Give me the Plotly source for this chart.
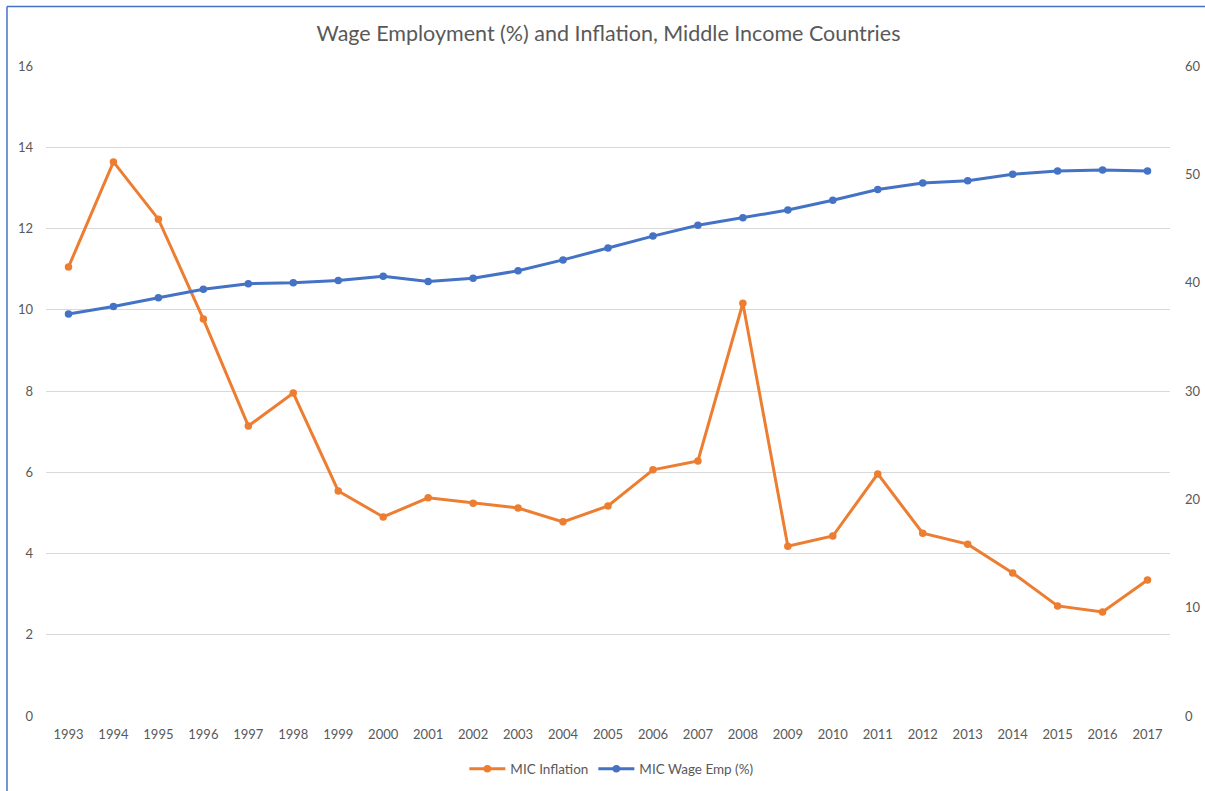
import plotly.graph_objects as go

years = [str(y) for y in range(1993, 2018)]
inflation = [11.05, 13.64, 12.23, 9.77, 7.14, 7.95, 5.54, 4.90, 5.37, 5.24, 5.12, 4.78, 5.17,
             6.06, 6.28, 10.16, 4.18, 4.43, 5.96, 4.50, 4.23, 3.52, 2.71, 2.56, 3.35]
wage_emp = [37.1, 37.8, 38.6, 39.4, 39.9, 40.0, 40.2, 40.6, 40.1, 40.4, 41.1, 42.1, 43.2,
            44.3, 45.3, 46.0, 46.7, 47.6, 48.6, 49.2, 49.4, 50.0, 50.3, 50.4, 50.3]

ORANGE = "#ED7D31"
BLUE = "#4472C4"
GRAY = "#595959"
FONT = "Lato"

fig = go.Figure()
fig.add_trace(go.Scatter(x=years, y=inflation, name="MIC Inflation", mode="lines+markers",
                         line=dict(color=ORANGE, width=3), marker=dict(color=ORANGE, size=7.5),
                         yaxis="y"))
fig.add_trace(go.Scatter(x=years, y=wage_emp, name="MIC Wage Emp (%)", mode="lines+markers",
                         line=dict(color=BLUE, width=3), marker=dict(color=BLUE, size=7.5),
                         yaxis="y2"))

L, R, T, B = 46, 35, 66, 75
W, H = 1205, 791
pw, ph = W - L - R, H - T - B

def px_x(x):
    return (x - L) / pw

def px_y(y):
    return (H - B - y) / ph

fig.update_layout(
    template="none",
    width=W, height=H,
    margin=dict(l=L, r=R, t=T, b=B, autoexpand=False),
    paper_bgcolor="white", plot_bgcolor="white",
    font=dict(family=FONT, color=GRAY, size=13),
    title=dict(text="Wage Employment (%) and Inflation, Middle Income Countries",
               x=0.505, xanchor="center", y=1 - 33 / H, yanchor="middle", yref="container",
               font=dict(family=FONT, size=21.5, color=GRAY)),
    xaxis=dict(type="category", range=[-0.5, len(years) - 0.5], showgrid=False,
               showline=False, zeroline=False, ticks="", automargin=False,
               ticklabelstandoff=9, tickfont=dict(size=13, color=GRAY)),
    yaxis=dict(range=[0, 16], dtick=2, showgrid=True, gridcolor="#D9D9D9", gridwidth=1,
               zeroline=False, showline=False, ticks="", ticklabelstandoff=12, automargin=False,
               tickfont=dict(size=13, color=GRAY)),
    yaxis2=dict(range=[0, 60], dtick=10, overlaying="y", side="right", showgrid=False,
                zeroline=False, showline=False, ticks="", ticklabelstandoff=14, automargin=False,
                tickfont=dict(size=13, color=GRAY)),
    legend=dict(orientation="h", x=0.503, xanchor="center", y=px_y(769), yanchor="middle",
                font=dict(size=13.5, color=GRAY), itemwidth=36, bgcolor="rgba(0,0,0,0)"),
    showlegend=True,
    shapes=[
        dict(type="line", xref="paper", yref="paper", x0=px_x(7), x1=px_x(1205),
             y0=px_y(6.5), y1=px_y(6.5), line=dict(color=BLUE, width=1.5)),
        dict(type="line", xref="paper", yref="paper", x0=px_x(7), x1=px_x(7),
             y0=px_y(6.5), y1=px_y(791), line=dict(color=BLUE, width=1.5)),
    ],
)

fig.write_html("out.html", config={"displayModeBar": False},
               post_script="document.body.style.margin='0';document.body.style.overflow='hidden';")
